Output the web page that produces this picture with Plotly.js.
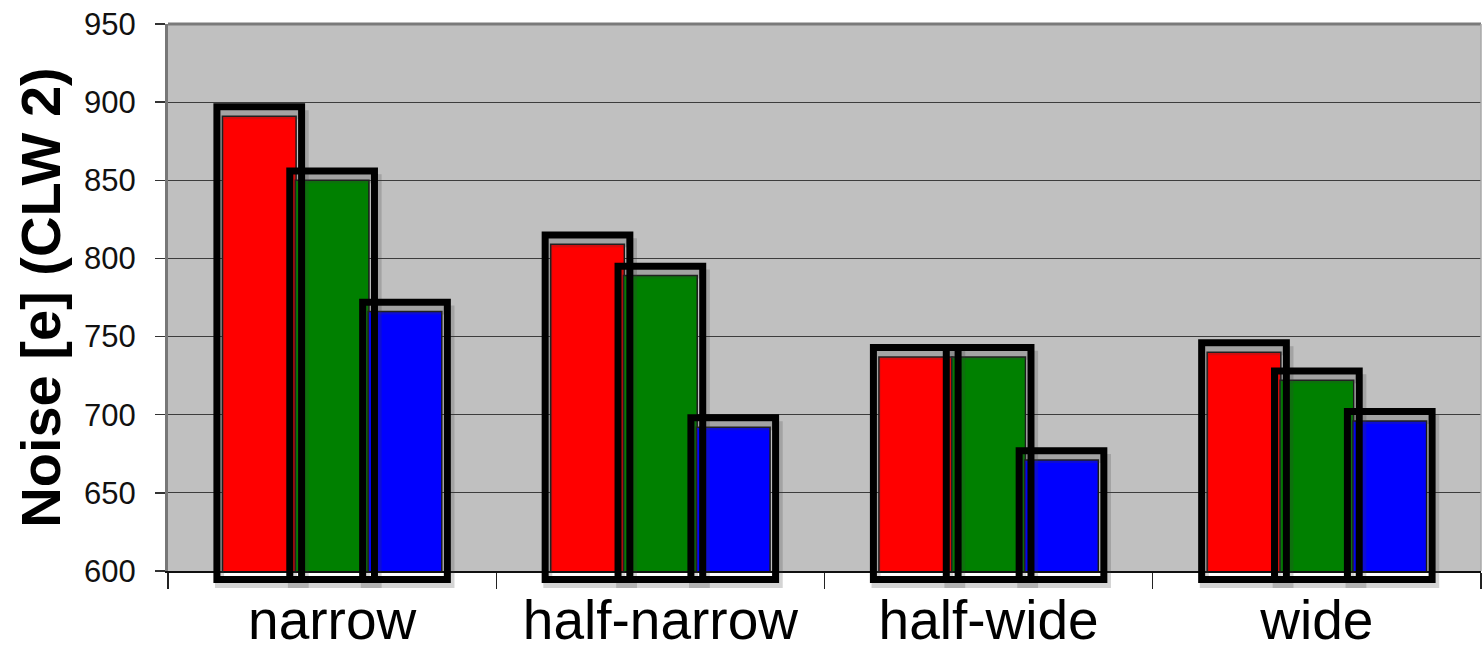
<!DOCTYPE html>
<html>
<head>
<meta charset="utf-8">
<script src="https://cdn.plot.ly/plotly-3.0.1.min.js"></script>
<style>
  html, body { margin: 0; padding: 0; background: #ffffff; overflow: hidden; }
  #chart { width: 1482px; height: 649px; }
</style>
</head>
<body>
<div id="chart"></div>
<script>
// Noise per strip-width configuration, three readout channels
const categories = ['narrow', 'half-narrow', 'half-wide', 'wide'];
const redValues = [891, 809, 737, 740];
const greenValues = [850, 789, 737, 722];
const blueValues = [766, 692, 671, 696];
const yTickValues = [600, 650, 700, 750, 800, 850, 900, 950];

// page geometry
const W = 1482, H = 649;
const M_LEFT = 168, M_RIGHT = 1, M_TOP = 24, M_BOTTOM = 59;
const AXIS_GAP_PX = 19;               // room under the value axis for the outline boxes
const Y_MIN = 600, Y_MAX = 950;
const plotH = H - M_TOP - M_BOTTOM;
const yDomainLow = AXIS_GAP_PX / plotH;
const unitsPerPx = (Y_MAX - Y_MIN) / (plotH - AXIS_GAP_PX);
const Y2_MIN = Y_MIN - AXIS_GAP_PX * unitsPerPx;

// bar geometry in category units
const BAR_WIDTH = 0.2245;
const FRAME_WIDTH = 0.258;
const CENTERS = [-0.222, 0, 0.222];
// outline boxes reach a little past the bar top and below the baseline (data units)
const FRAME_PAD = 6;
const FRAME_BASE = 594.5;

const series = [
  { name: 'red', values: redValues, color: '#ff0000' },
  { name: 'green', values: greenValues, color: '#008000' },
  { name: 'blue', values: blueValues, color: '#0000ff' }
];

const traces = [];

// filled bars on the main value axis
series.forEach((s, i) => {
  traces.push({
    type: 'bar',
    name: s.name,
    x: categories,
    y: s.values,
    xaxis: 'x',
    yaxis: 'y',
    width: BAR_WIDTH,
    offset: CENTERS[i] - BAR_WIDTH / 2,
    marker: { color: s.color, line: { color: '#1a1a1a', width: 1.5 } },
    hoverinfo: 'skip',
    showlegend: false
  });
});

// soft shadow behind the outline boxes (same scale, taller subplot)
series.forEach((s, i) => {
  traces.push({
    type: 'bar',
    x: categories,
    y: s.values.map(v => v + FRAME_PAD - FRAME_BASE - 2.5),
    base: FRAME_BASE - 2.5,
    xaxis: 'x',
    yaxis: 'y2',
    width: FRAME_WIDTH,
    offset: CENTERS[i] - FRAME_WIDTH / 2 + 0.008,
    marker: { color: 'rgba(0,0,0,0)', line: { color: 'rgba(60,60,60,0.22)', width: 9 } },
    hoverinfo: 'skip',
    showlegend: false
  });
});

// black outline boxes around each bar
series.forEach((s, i) => {
  traces.push({
    type: 'bar',
    x: categories,
    y: s.values.map(v => v + FRAME_PAD - FRAME_BASE),
    base: FRAME_BASE,
    xaxis: 'x',
    yaxis: 'y2',
    width: FRAME_WIDTH,
    offset: CENTERS[i] - FRAME_WIDTH / 2,
    marker: { color: 'rgba(0,0,0,0)', line: { color: '#000000', width: 7 } },
    hoverinfo: 'skip',
    showlegend: false
  });
});

const font = 'Liberation Sans, Arial, sans-serif';

const layout = {
  width: W,
  height: H,
  margin: { l: M_LEFT, r: M_RIGHT, t: M_TOP, b: M_BOTTOM },
  paper_bgcolor: '#ffffff',
  plot_bgcolor: 'rgba(0,0,0,0)',
  barmode: 'overlay',
  showlegend: false,
  font: { family: font, color: '#000000' },
  xaxis: {
    type: 'category',
    categoryorder: 'array',
    categoryarray: categories,
    range: [-0.5, categories.length - 0.5],
    anchor: 'y',
    tickson: 'boundaries',
    ticks: 'outside',
    ticklen: 16,
    tickwidth: 1.3,
    tickcolor: '#222222',
    showgrid: false,
    showline: true,
    linecolor: '#111111',
    linewidth: 1.5,
    tickfont: { family: font, size: 55, color: '#000000' },
    zeroline: false,
    fixedrange: true
  },
  yaxis: {
    domain: [yDomainLow, 1],
    range: [Y_MIN, Y_MAX],
    tickmode: 'array',
    tickvals: yTickValues,
    ticktext: yTickValues.map(String),
    ticks: 'outside',
    ticklen: 10,
    tickwidth: 1.3,
    tickcolor: '#333333',
    showgrid: true,
    gridcolor: '#3c3c3c',
    gridwidth: 1.2,
    showline: true,
    linecolor: '#777777',
    linewidth: 3,
    zeroline: false,
    tickfont: { family: font, size: 31, color: '#111111' },
    ticklabelstandoff: 13,
    title: {
      text: 'Noise [e] (CLW 2)',
      font: { family: font, size: 56, color: '#000000', weight: 'bold' },
      standoff: 6
    },
    fixedrange: true
  },
  yaxis2: {
    domain: [0, 1],
    range: [Y2_MIN, Y_MAX],
    anchor: 'x',
    showgrid: false,
    showline: false,
    showticklabels: false,
    ticks: '',
    zeroline: false,
    fixedrange: true
  },
  shapes: [
    // grey plotting area above the value axis
    { type: 'rect', xref: 'paper', yref: 'paper', x0: 0, x1: 1, y0: yDomainLow, y1: 1,
      fillcolor: '#c0c0c0', line: { width: 0 }, layer: 'below' },
    // plot frame: grey top edge and faint right edge
    { type: 'line', xref: 'paper', yref: 'paper', x0: 0, x1: 1, y0: 1, y1: 1,
      line: { color: '#7a7a7a', width: 3 }, layer: 'above' },
    { type: 'line', xref: 'paper', yref: 'paper', x0: 1, x1: 1, y0: yDomainLow, y1: 1,
      line: { color: '#a8a8a8', width: 1.5 }, layer: 'above' }
  ]
};

Plotly.newPlot('chart', traces, layout, { displayModeBar: false, staticPlot: true });
</script>
</body>
</html>
